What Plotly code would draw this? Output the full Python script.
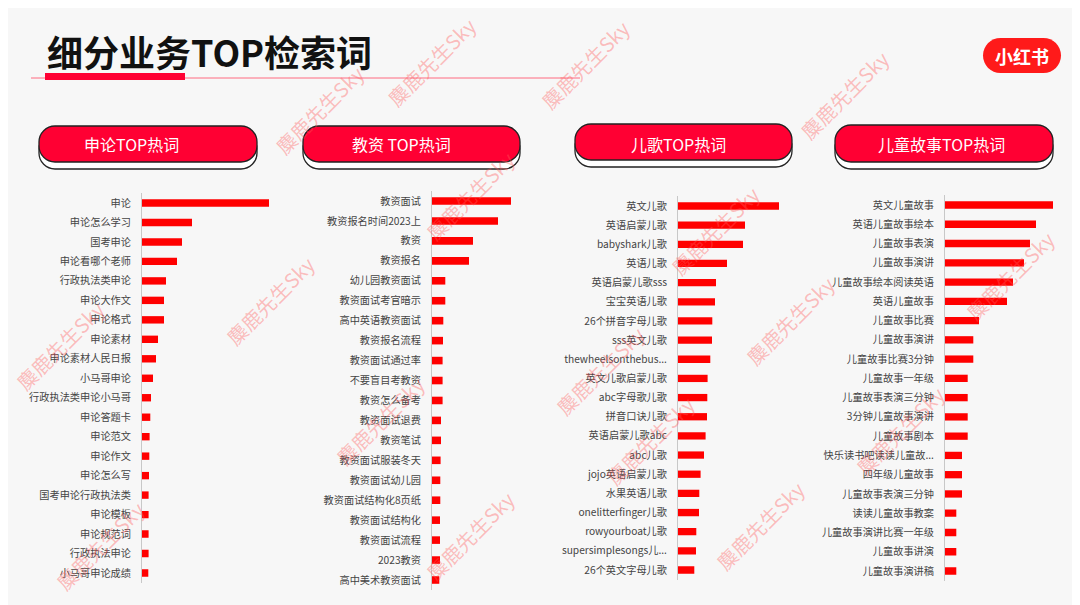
import plotly.graph_objects as go

# page body has an 8px default margin; figure sized to fit the 1080x605 window
OFF = 8
W, H = 1080 - OFF, 605 - OFF

# ---------------- data ----------------
shenlun_terms = ["申论", "申论怎么学习", "国考申论", "申论看哪个老师", "行政执法类申论", "申论大作文",
                 "申论格式", "申论素材", "申论素材人民日报", "小马哥申论", "行政执法类申论小马哥",
                 "申论答题卡", "申论范文", "申论作文", "申论怎么写", "国考申论行政执法类",
                 "申论模板", "申论规范词", "行政执法申论", "小马哥申论成绩"]
shenlun_values = [127, 50, 40, 35, 24, 22, 22, 16, 14, 11, 9, 8.3, 7.6, 7.3, 7, 6.6, 6.6, 6.6, 6.6, 6.3]

jiaozi_terms = ["教资面试", "教资报名时间2023上", "教资", "教资报名", "幼儿园教资面试", "教资面试考官暗示",
                "高中英语教资面试", "教资报名流程", "教资面试通过率", "不要盲目考教资", "教资怎么备考",
                "教资面试退费", "教资笔试", "教资面试服装冬天", "教资面试幼儿园", "教资面试结构化8页纸",
                "教资面试结构化", "教资面试流程", "2023教资", "高中美术教资面试"]
jiaozi_values = [79, 66, 41, 37, 13.3, 13.3, 11.3, 11, 10.6, 10.6, 10.6, 9, 9, 8.6, 8.3, 8.3, 8, 8, 8, 7.3]

erge_terms = ["英文儿歌", "英语启蒙儿歌", "babyshark儿歌", "英语儿歌", "英语启蒙儿歌sss", "宝宝英语儿歌",
              "26个拼音字母儿歌", "sss英文儿歌", "thewheelsonthebus...", "英文儿歌启蒙儿歌", "abc字母歌儿歌",
              "拼音口诀儿歌", "英语启蒙儿歌abc", "abc儿歌", "jojo英语启蒙儿歌", "水果英语儿歌",
              "onelitterfinger儿歌", "rowyourboat儿歌", "supersimplesongs儿...", "26个英文字母儿歌"]
erge_values = [101, 67, 65, 49, 38, 37, 34.3, 34, 32.3, 29.6, 29.3, 29, 27.6, 26, 22.6, 21.3, 21, 18.3, 18, 16.3]

gushi_terms = ["英文儿童故事", "英语儿童故事绘本", "儿童故事表演", "儿童故事演讲", "儿童故事绘本阅读英语",
               "英语儿童故事", "儿童故事比赛", "儿童故事演讲", "儿童故事比赛3分钟", "儿童故事一年级",
               "儿童故事表演三分钟", "3分钟儿童故事演讲", "儿童故事剧本", "快乐读书吧读读儿童故...",
               "四年级儿童故事", "儿童故事表演三分钟", "读读儿童故事教案", "儿童故事演讲比赛一年级",
               "儿童故事讲演", "儿童故事演讲稿"]
gushi_values = [108, 91, 85, 79, 68, 62, 34, 28.3, 28.3, 22.7, 22.7, 22.7, 22.7, 17, 17, 17, 11.3, 11.3, 11.3, 11.3]

panel_titles = ["申论TOP热词", "教资 TOP热词", "儿歌TOP热词", "儿童故事TOP热词"]

# ---------------- helpers (window pixels -> paper fractions) ----------------
def fx(x):
    return (x - OFF) / W

def fy(y):
    return 1 - (y - OFF) / H

def pill_path(x0, x1, y0, y1, r):
    k = 0.5523 * r
    pts = [
        ("M", [(x0 + r, y0)]),
        ("L", [(x1 - r, y0)]),
        ("C", [(x1 - r + k, y0), (x1, y0 + r - k), (x1, y0 + r)]),
        ("L", [(x1, y1 - r)]),
        ("C", [(x1, y1 - r + k), (x1 - r + k, y1), (x1 - r, y1)]),
        ("L", [(x0 + r, y1)]),
        ("C", [(x0 + r - k, y1), (x0, y1 - r + k), (x0, y1 - r)]),
        ("L", [(x0, y0 + r)]),
        ("C", [(x0, y0 + r - k), (x0 + r - k, y0), (x0 + r, y0)]),
    ]
    s = ""
    for cmd, ps in pts:
        s += cmd + " " + " ".join(f"{fx(a):.5f},{fy(b):.5f}" for a, b in ps) + " "
    return s + "Z"

FONT = "Noto Sans CJK SC, Noto Sans, sans-serif"
BAR_RED = "#ff0000"
HEAD_RED = "#ff0033"

panels = [
    dict(terms=shenlun_terms, values=shenlun_values, ax=142, aw=138, top=203, bot=573,
         pill=(39, 257, 126, 162), tx=131),
    dict(terms=jiaozi_terms, values=jiaozi_values, ax=432, aw=93, top=201, bot=580,
         pill=(303, 520, 126, 162), tx=401),
    dict(terms=erge_terms, values=erge_values, ax=678, aw=112, top=206, bot=570,
         pill=(575, 792, 124, 160), tx=678),
    dict(terms=gushi_terms, values=gushi_values, ax=945, aw=117, top=205, bot=571,
         pill=(835, 1053, 125, 162), tx=941),
]

fig = go.Figure()
shapes = []
annotations = []

for i, p in enumerate(panels, start=1):
    n = len(p["terms"])
    idx = list(range(n))
    xa = "x" if i == 1 else f"x{i}"
    ya = "y" if i == 1 else f"y{i}"
    fig.add_trace(go.Bar(
        x=p["values"], y=idx, orientation="h", marker=dict(color=BAR_RED, line=dict(width=0)),
        width=0.38, xaxis=xa, yaxis=ya, showlegend=False, hoverinfo="skip",
    ))
    s = (p["bot"] - p["top"]) / (n - 1)
    top_px = p["top"] - s / 2
    bot_px = p["bot"] + s / 2
    xkey = "xaxis" if i == 1 else f"xaxis{i}"
    ykey = "yaxis" if i == 1 else f"yaxis{i}"
    fig.update_layout({
        xkey: dict(domain=[fx(p["ax"]), fx(p["ax"] + p["aw"])], range=[0, p["aw"]],
                   visible=False, anchor=ya, fixedrange=True),
        ykey: dict(domain=[fy(bot_px), fy(top_px)], range=[n - 0.5, -0.5], anchor=xa,
                   tickmode="array", tickvals=idx, ticktext=p["terms"],
                   showline=True, linecolor="#c8c8c8", linewidth=1, showgrid=False,
                   zeroline=False, ticks="outside", ticklen=8, tickcolor="rgba(0,0,0,0)",
                   tickfont=dict(family=FONT, size=10.2, color="#444444"), fixedrange=True),
    })
    # header pills: shadow + red
    x0, x1, y0, y1 = p["pill"]
    shapes.append(dict(type="path", xref="paper", yref="paper",
                       path=pill_path(x0, x1, y0 + 7, y1 + 7, 16),
                       fillcolor="#ffffff", line=dict(color="#222222", width=1.3)))
    shapes.append(dict(type="path", xref="paper", yref="paper",
                       path=pill_path(x0, x1, y0, y1, 16),
                       fillcolor=HEAD_RED, line=dict(color="#222222", width=1.3)))
    annotations.append(dict(text=panel_titles[i - 1], x=fx(p["tx"]), y=fy(144), xref="paper", yref="paper",
                            showarrow=False, xanchor="center", yanchor="middle",
                            font=dict(family=FONT, size=16, color="#ffffff")))

# title + underline
shapes.append(dict(type="line", xref="paper", yref="paper", x0=fx(31), x1=fx(580), y0=fy(78), y1=fy(78),
                   line=dict(color="#ff6b80", width=1)))
shapes.append(dict(type="rect", xref="paper", yref="paper", x0=fx(45), x1=fx(185), y0=fy(73), y1=fy(80),
                   fillcolor=HEAD_RED, line=dict(width=0)))
annotations.append(dict(text="<b>细分业务TOP检索词</b>", x=fx(45), y=fy(51), xref="paper", yref="paper",
                        showarrow=False, xanchor="left", yanchor="middle",
                        font=dict(family=FONT, size=36, color="#111111")))

# logo
shapes.append(dict(type="path", xref="paper", yref="paper", path=pill_path(983, 1061, 38, 73, 17.5),
                   fillcolor="#ff1a1a", line=dict(width=0)))
annotations.append(dict(text="<b>小红书</b>", x=fx(1022), y=fy(56), xref="paper", yref="paper",
                        showarrow=False, xanchor="center", yanchor="middle",
                        font=dict(family=FONT, size=18, color="#ffffff")))

# watermarks
wm_pos = [(432, 62), (585, 64), (320, 110), (845, 95), (470, 195), (715, 230), (1010, 275),
          (60, 345), (270, 300), (600, 370), (790, 320), (380, 420), (650, 440), (900, 430),
          (100, 545), (470, 535), (760, 525)]
for (wx, wy) in wm_pos:
    annotations.append(dict(text="麋鹿先生Sky", x=fx(wx), y=fy(wy), xref="paper", yref="paper",
                            showarrow=False, textangle=-45, xanchor="center", yanchor="middle",
                            font=dict(family=FONT, size=20, color="rgba(255,90,90,0.38)")))

fig.update_layout(
    width=W, height=H, margin=dict(l=0, r=0, t=0, b=0),
    paper_bgcolor="#f7f7f7", plot_bgcolor="rgba(0,0,0,0)",
    shapes=shapes, annotations=annotations, bargap=0.6,
    font=dict(family=FONT),
)

fig.write_html("out.html")
